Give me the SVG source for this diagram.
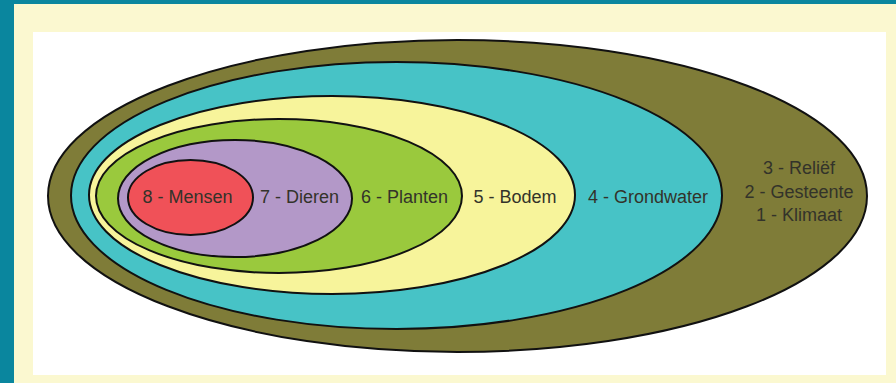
<svg xmlns="http://www.w3.org/2000/svg" width="896" height="383" viewBox="0 0 896 383">
<style>
.ring{stroke:#111;stroke-width:2}
.lbl{font-family:"Liberation Sans",Arial,sans-serif;font-size:18px;fill:#33332a;text-anchor:middle}
</style>
<rect x="0" y="0" width="896" height="383" fill="#0a869e"/>
<rect x="14" y="4" width="882" height="379" fill="#fbf8d0"/>
<rect x="33" y="32" width="853" height="343" fill="#ffffff"/>
<g id="n123">
<ellipse class="ring" cx="457.5" cy="196" rx="409.5" ry="156" fill="#7f7c38"/>
<text class="lbl" x="799" y="174">3 - Reliëf</text>
<text class="lbl" x="799" y="198">2 - Gesteente</text>
<text class="lbl" x="799" y="221">1 - Klimaat</text>
</g>
<g id="n4">
<ellipse class="ring" cx="396.5" cy="195.5" rx="325.5" ry="133.5" fill="#47c3c6"/>
<text class="lbl" x="648" y="203">4 - Grondwater</text>
</g>
<g id="n5">
<ellipse class="ring" cx="332" cy="195" rx="243" ry="99" fill="#f7f49b"/>
<text class="lbl" x="515" y="203">5 - Bodem</text>
</g>
<g id="n6">
<ellipse class="ring" cx="279" cy="196" rx="183" ry="77" fill="#9ac93d"/>
<text class="lbl" x="404.5" y="203">6 - Planten</text>
</g>
<g id="n7">
<ellipse class="ring" cx="235" cy="198.5" rx="117" ry="58.5" fill="#b398c8"/>
<text class="lbl" x="299.5" y="203">7 - Dieren</text>
</g>
<g id="n8">
<ellipse class="ring" cx="190.5" cy="197.5" rx="62.5" ry="37.5" fill="#f05158"/>
<text class="lbl" x="187.5" y="203">8 - Mensen</text>
</g>
</svg>
